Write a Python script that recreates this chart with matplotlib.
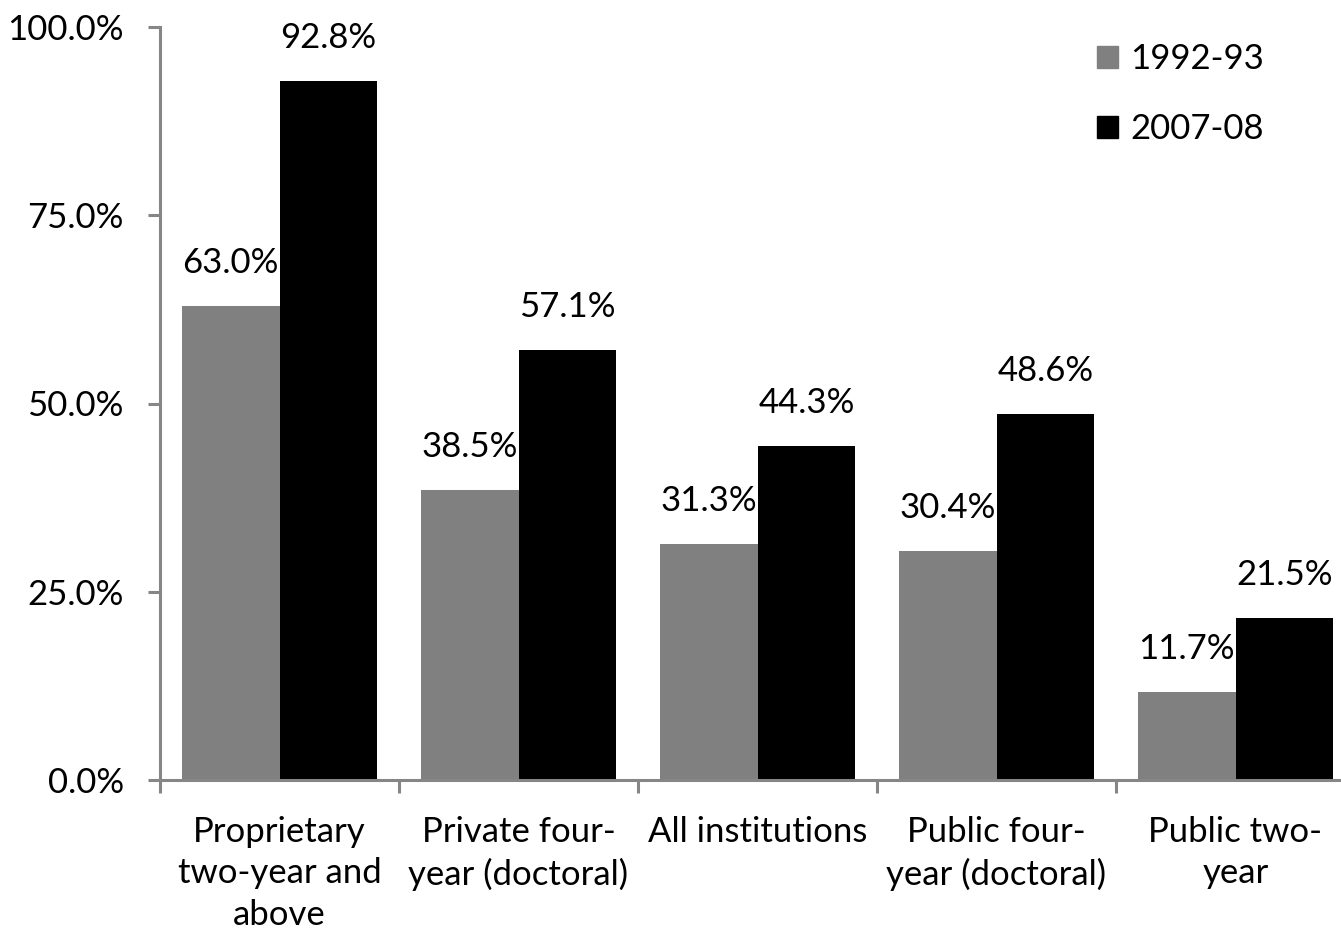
import numpy as np
import matplotlib
matplotlib.use("Agg")
from matplotlib import pyplot as plt
from matplotlib.patches import Patch

plt.rcParams['font.family'] = ['Lato', 'DejaVu Sans']

# categories and shares (%) for the two survey years
categories = ["Proprietary\ntwo-year and\nabove", "Private four-\nyear (doctoral)",
              "All institutions", "Public four-\nyear (doctoral)", "Public two-\nyear"]
years = ["1992-93", "2007-08"]
share_9293 = [63.0, 38.5, 31.3, 30.4, 11.7]
share_0708 = [92.8, 57.1, 44.3, 48.6, 21.5]
yticks = [0, 25, 50, 75, 100]

W, H = 1341, 935
fig = plt.figure(figsize=(W / 100, H / 100), dpi=100)
# plot area runs a little past the right edge of the figure
ax = fig.add_axes([160 / W, (H - 780) / H, (1355 - 160) / W, (780 - 27) / H])

fs = 25
axis_col = "#868686"
x = np.arange(len(categories))
bw = 0.41

b1 = ax.bar(x - bw / 2, share_9293, bw, color="#808080", label=years[0])
b2 = ax.bar(x + bw / 2, share_0708, bw, color="black", label=years[1])

for bars, vals in ((b1, share_9293), (b2, share_0708)):
    for r, v in zip(bars, vals):
        ax.text(r.get_x() + r.get_width() / 2, v + 3.6, f"{v:.1f}%",
                ha="center", va="bottom", fontsize=fs)

ax.set_xlim(-0.5, len(categories) - 0.5)
ax.set_ylim(0, 100)
ax.set_yticks(yticks)
ax.set_yticklabels([f"{t:.1f}%" for t in yticks])

ax.set_xticks(x)
ax.set_xticklabels(categories, fontsize=fs, linespacing=1.36)
ax.set_xticks(np.arange(len(categories)) - 0.5, minor=True)
ax.tick_params(axis="x", which="major", length=0, pad=26)
ax.tick_params(axis="x", which="minor", length=9, width=2.2, color=axis_col, direction="out")
ax.tick_params(axis="y", length=9, width=2.2, color=axis_col, labelsize=fs, pad=17)

for s in ("top", "right"):
    ax.spines[s].set_visible(False)
for s in ("left", "bottom"):
    ax.spines[s].set_color(axis_col)
    ax.spines[s].set_linewidth(2.2)

handles = [Patch(color="#808080"), Patch(color="black")]
fig.legend(handles, years, loc="upper left", bbox_to_anchor=(1066 / W, 1 - 12 / H),
           frameon=False, fontsize=fs, handlelength=0.6, handleheight=0.6,
           handletextpad=0.35, labelspacing=1.1)

fig.savefig("out.png", dpi=100)
